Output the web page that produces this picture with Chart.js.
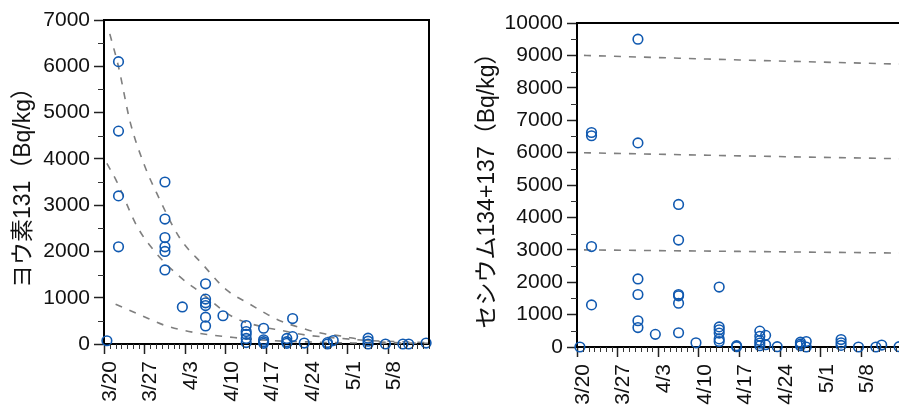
<!DOCTYPE html>
<html>
<head>
<meta charset="utf-8">
<script src="https://cdn.jsdelivr.net/npm/chart.js@4/dist/chart.umd.min.js"></script>
<style>
  html, body { margin: 0; padding: 0; background: #fff; overflow: hidden; width: 899px; height: 405px; }
  #iodine-chart { position: absolute; left: 0; top: 0; }
  #cesium-chart { position: absolute; left: 460px; top: 0; }
</style>
</head>
<body>
<canvas id="iodine-chart" width="440" height="405"></canvas>
<canvas id="cesium-chart" width="460" height="405"></canvas>
<script>
// days counted from 3/20
const tickDays = [0, 7, 14, 21, 28, 35, 42, 49];
const tickLabels = ['3/20', '3/27', '4/3', '4/10', '4/17', '4/24', '5/1', '5/8'];
const iodineTicks = [0, 1000, 2000, 3000, 4000, 5000, 6000, 7000];
const cesiumTicks = [0, 1000, 2000, 3000, 4000, 5000, 6000, 7000, 8000, 9000, 10000];

// sampling days and the measured values on each day
const sampleDays = [0.5, 2.5, 10.5, 13.5, 17.5, 20.5, 24.5, 27.5, 31.5, 32.5, 34.5, 38.5, 39.5, 45.5, 48.5, 51.5, 52.5, 55.5];
const iodine = [
  [70], [6100, 4600, 3200, 2100], [3500, 2700, 2300, 2100, 2000, 1600], [800],
  [1300, 970, 890, 830, 580, 390], [610], [400, 270, 210, 120, 30], [340, 90, 50, 15],
  [120, 50, 15], [550, 160], [20], [30, 0], [75], [125, 60, 0], [0], [0], [0], [20]
];
const cesium = [
  [0], [6620, 6520, 3100, 1300], [9500, 6300, 2100, 1620, 810, 600], [390],
  [4400, 3300, 1620, 1580, 1350, 440], [130], [1850, 620, 530, 430, 250, 170], [40, 10],
  [490, 330, 200, 120, 40], [360, 70], [10], [150, 90, 40], [170, 0], [230, 130, 50], [0], [0], [60], [10]
];

// dashed decay reference curves
const iodineCurveHighDays = [1, 2.5, 4.5, 7, 9, 13, 17, 21, 25, 28, 30, 35, 38, 41, 44, 47, 50, 56];
const iodineCurveHigh = [6700, 5990, 4800, 3850, 3280, 2300, 1720, 1180, 870, 650, 520, 310, 220, 170, 100, 50, 30, 15];
const iodineCurveMidDays = [0.5, 2.2, 5.7, 9, 13, 17, 22, 28, 30, 33, 35, 40, 45, 56];
const iodineCurveMid = [3900, 3510, 2540, 1960, 1460, 1080, 600, 350, 310, 230, 190, 130, 80, 30];
const iodineCurveLowDays = [2, 6.3, 10.3, 15.5, 22.4, 28, 35, 42, 49, 56];
const iodineCurveLow = [860, 626, 410, 250, 140, 80, 45, 25, 10, 5];
const cesiumCurveDays = [1.2, 28, 56];
const cesiumCurveHigh = [9000, 8860, 8730];
const cesiumCurveMid = [5995, 5900, 5810];
const cesiumCurveLow = [2998, 2950, 2900];

const BLUE = '#1059b0';
const GREY = '#7f7f7f';
const FONT = "'Liberation Sans', Arial, 'Noto Sans CJK JP', sans-serif";

function toPoints(days, groups) {
  return days.flatMap((d, i) => groups[i].map(v => ({ x: d, y: v })));
}

function curve(days, vals) {
  return {
    type: 'line',
    data: days.map((d, i) => ({ x: d, y: vals[i] })),
    showLine: true,
    borderColor: GREY,
    borderWidth: 1.6,
    borderDash: [7, 8],
    pointRadius: 0,
    cubicInterpolationMode: 'monotone',
    fill: false
  };
}

// minor ticks plus top/right frame
const frame = {
  id: 'frame',
  afterDraw(chart) {
    const { ctx, chartArea: a, scales: { x, y } } = chart;
    ctx.save();
    ctx.strokeStyle = '#333';
    ctx.lineWidth = 1;
    ctx.beginPath();
    for (let d = Math.ceil(x.min); d <= x.max; d++) {
      if (tickDays.includes(d)) continue;
      const px = Math.round(x.getPixelForValue(d)) + 0.5;
      ctx.moveTo(px, a.bottom);
      ctx.lineTo(px, a.bottom + 5);
    }
    const yt = y.ticks.map(t => t.value);
    for (let i = 0; i < yt.length - 1; i++) {
      const py = Math.round(y.getPixelForValue((yt[i] + yt[i + 1]) / 2)) + 0.5;
      ctx.moveTo(a.left - 6, py);
      ctx.lineTo(a.left, py);
    }
    ctx.stroke();
    ctx.strokeStyle = '#000';
    ctx.lineWidth = 2;
    ctx.beginPath();
    ctx.moveTo(a.left, a.top);
    ctx.lineTo(a.right, a.top);
    ctx.lineTo(a.right, a.bottom);
    ctx.stroke();
    ctx.restore();
  }
};

function makeChart(id, cfg) {
  const datasets = [{
    data: cfg.points,
    showLine: false,
    pointStyle: 'circle',
    pointRadius: 4.8,
    pointBorderWidth: 1.6,
    pointBackgroundColor: 'rgba(0,0,0,0)',
    pointBorderColor: BLUE,
    clip: false
  }].concat(cfg.curves);

  new Chart(document.getElementById(id), {
    type: 'scatter',
    data: { datasets: datasets },
    options: {
      responsive: false,
      animation: false,
      events: [],
      layout: { padding: cfg.padding },
      plugins: { legend: { display: false }, tooltip: { enabled: false } },
      scales: {
        x: {
          type: 'linear',
          min: 0,
          max: 56,
          border: { display: true, color: '#000', width: 2 },
          grid: { drawOnChartArea: false, drawTicks: true, tickLength: 10, tickColor: '#222', tickWidth: 1.5 },
          ticks: {
            autoSkip: false,
            minRotation: 90,
            maxRotation: 90,
            padding: 7,
            labelOffset: 6,
            color: '#111',
            font: { family: FONT, size: 21 },
            callback: v => tickLabels[tickDays.indexOf(v)]
          },
          afterBuildTicks: s => { s.ticks = tickDays.map(v => ({ value: v })); },
          afterFit: s => { s.height = cfg.xHeight; }
        },
        y: {
          type: 'linear',
          min: 0,
          max: cfg.yTicks[cfg.yTicks.length - 1],
          border: { display: true, color: '#000', width: 2 },
          grid: { drawOnChartArea: false, drawTicks: true, tickLength: 10, tickColor: '#222', tickWidth: 1.5 },
          ticks: {
            padding: 4,
            color: '#111',
            font: { family: FONT, size: 21 },
            callback: v => String(v)
          },
          title: {
            display: true,
            text: cfg.title,
            color: '#111',
            font: { family: FONT, size: 23 },
            padding: { top: cfg.titlePad, bottom: 0 }
          },
          afterBuildTicks: s => { s.ticks = cfg.yTicks.map(v => ({ value: v })); },
          afterFit: s => { s.width = cfg.yWidth; }
        }
      }
    },
    plugins: [frame]
  });
}

makeChart('iodine-chart', {
  points: toPoints(sampleDays, iodine),
  curves: [
    curve(iodineCurveHighDays, iodineCurveHigh),
    curve(iodineCurveMidDays, iodineCurveMid),
    curve(iodineCurveLowDays, iodineCurveLow)
  ],
  yTicks: iodineTicks,
  title: 'ヨウ素131（Bq/kg）',
  titlePad: 10,
  yWidth: 104,
  xHeight: 61,
  padding: { left: 0, top: 20, right: 11, bottom: 0 }
});

makeChart('cesium-chart', {
  points: toPoints(sampleDays, cesium),
  curves: [
    curve(cesiumCurveDays, cesiumCurveHigh),
    curve(cesiumCurveDays, cesiumCurveMid),
    curve(cesiumCurveDays, cesiumCurveLow)
  ],
  yTicks: cesiumTicks,
  title: 'セシウム134+137（Bq/kg）',
  titlePad: 14,
  yWidth: 117,
  xHeight: 58,
  padding: { left: 0, top: 23, right: 18, bottom: 0 }
});
</script>
</body>
</html>
